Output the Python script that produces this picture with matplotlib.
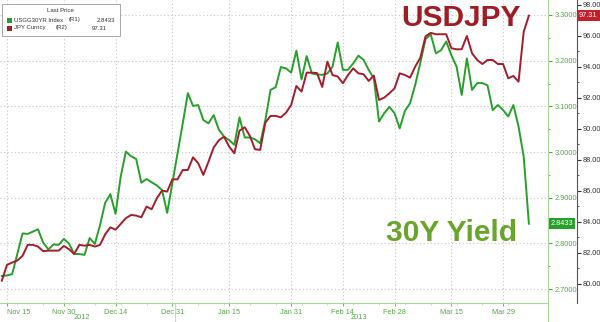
import numpy as np
import pandas as pd
import matplotlib
matplotlib.use("Agg")
import matplotlib.pyplot as plt
import matplotlib.transforms as mtransforms
from matplotlib.patches import Rectangle
from matplotlib.ticker import FormatStrFormatter

plt.rcParams["font.family"] = ["Liberation Sans", "DejaVu Sans"]

# business days, 14 Nov 2012 .. 5 Apr 2013
dates = pd.bdate_range("2012-11-14", "2013-04-05")

yield_30y = [
    2.729, 2.730, 2.733, 2.777, 2.822, 2.821, 2.826, 2.831, 2.802, 2.787,
    2.798, 2.797, 2.810, 2.800, 2.777, 2.777, 2.775, 2.812, 2.799, 2.840,
    2.889, 2.908, 2.865, 2.946, 3.001, 2.991, 2.985, 2.933, 2.941, 2.934,
    2.927, 2.917, 2.867, 2.932, 2.997, 3.062, 3.129, 3.101, 3.103, 3.070,
    3.063, 3.081, 3.049, 3.034, 3.026, 3.016, 3.076, 3.032, 3.032, 3.028,
    3.019, 3.070, 3.136, 3.142, 3.186, 3.183, 3.174, 3.222, 3.159, 3.210,
    3.172, 3.170, 3.169, 3.172, 3.187, 3.240, 3.180, 3.180, 3.194, 3.211,
    3.202, 3.180, 3.161, 3.067, 3.085, 3.099, 3.085, 3.052, 3.090, 3.107,
    3.147, 3.196, 3.247, 3.258, 3.216, 3.223, 3.242, 3.212, 3.187, 3.125,
    3.205, 3.136, 3.151, 3.151, 3.146, 3.092, 3.103, 3.092, 3.078, 3.103,
    3.056, 2.990, 2.8433,
]

usdjpy = [
    80.21, 81.23, 81.38, 81.51, 81.81, 82.52, 82.52, 82.41, 82.11, 82.15,
    82.15, 82.15, 82.45, 82.24, 81.94, 82.52, 82.47, 82.52, 82.41, 82.52,
    83.20, 83.65, 83.50, 83.87, 84.24, 84.45, 84.41, 84.30, 84.99, 84.82,
    85.53, 86.02, 85.96, 86.75, 86.75, 87.35, 87.35, 88.17, 87.79, 87.03,
    87.89, 88.80, 89.27, 89.50, 88.86, 88.43, 89.89, 90.11, 89.55, 88.69,
    88.65, 90.41, 90.84, 90.84, 90.75, 91.05, 91.55, 92.77, 92.41, 93.63,
    93.63, 93.61, 92.71, 94.34, 93.48, 93.38, 92.95, 93.48, 93.91, 93.59,
    93.53, 93.10, 93.44, 91.87, 92.02, 92.30, 92.62, 93.59, 93.48, 93.31,
    94.02, 94.60, 95.98, 96.20, 96.11, 96.11, 96.11, 95.21, 95.14, 95.14,
    96.00, 94.88, 94.45, 94.19, 94.45, 94.45, 94.19, 94.19, 93.27, 93.42,
    93.05, 96.28, 97.31,
]

tick_dates = ["2012-11-15", "2012-11-30", "2012-12-14", "2012-12-31", "2013-01-15",
              "2013-01-31", "2013-02-14", "2013-02-28", "2013-03-15", "2013-03-29"]
tick_labels = ["Nov 15", "Nov 30", "Dec 14", "Dec 31", "Jan 15",
               "Jan 31", "Feb 14", "Feb 28", "Mar 15", "Mar 29"]
years = ["2012", "2013"]

GREEN = "#26a02a"
RED = "#a31d2c"
GRID = "#c4c4c4"
AXGREEN = "#a9d79a"
LABGREEN = "#55a84a"

x = np.arange(len(dates))
tick_idx = dates.get_indexer(pd.to_datetime(tick_dates))
mondays = np.where(dates.weekday == 0)[0]

fig = plt.figure(figsize=(6, 3.22), dpi=100)
ax = fig.add_axes([0, 19 / 322, 548 / 600, 303 / 322])
ax2 = ax.twinx()

ax.plot(x, yield_30y, color=GREEN, lw=1.4, zorder=3)
ax.set_xlim(-0.354, 105.7)
ax.set_ylim(2.6698, 3.3328)

for s in ["left", "top"]:
    ax.spines[s].set_visible(False)
ax.spines["right"].set_color(AXGREEN)
ax.spines["bottom"].set_color(AXGREEN)

ax.yaxis.tick_right()
ax.set_yticks(np.arange(2.7, 3.31, 0.1))
ax.set_yticks(np.arange(2.75, 3.3, 0.1), minor=True)
ax.yaxis.set_major_formatter(FormatStrFormatter("%.4f"))
ax.tick_params(axis="y", which="major", colors=LABGREEN, labelsize=5.3, length=3, pad=1.5, width=0.8)
ax.tick_params(axis="y", which="minor", colors=LABGREEN, length=1.5, width=0.6)

ax.set_xticks(tick_idx)
ax.set_xticklabels(tick_labels)
ax.set_xticks(mondays, minor=True)
ax.tick_params(axis="x", which="major", colors=LABGREEN, labelsize=5.3, length=2, pad=2.5, width=0.6)
ax.tick_params(axis="x", which="minor", colors=AXGREEN, length=1.5, width=0.5)
ax.get_xticklabels()[0].set_ha("left")

ax.grid(True, which="major", color=GRID, linestyle=(0, (1, 2.2)), lw=0.8)

# axis lines running below the plot, and the 2012 / 2013 divider
blend = mtransforms.blended_transform_factory(ax.transData, ax.transAxes)
ax.plot([33.5, 33.5], [0, -0.07], color="#d0d0d0", lw=0.8, transform=blend, clip_on=False)
ax.plot([1, 1], [0, -0.07], color=AXGREEN, lw=0.8, transform=ax.transAxes, clip_on=False)
ax.text(15.5, -0.047, years[0], transform=blend, ha="center", va="center", fontsize=5.3, color=LABGREEN)
ax.text(69, -0.047, years[1], transform=blend, ha="center", va="center", fontsize=5.3, color=LABGREEN)

ax.text(551 / 548, yield_30y[-1], f"{yield_30y[-1]:.4f}",
        transform=mtransforms.blended_transform_factory(ax.transAxes, ax.transData),
        ha="left", va="center", fontsize=5.3, color="white", zorder=6,
        bbox=dict(boxstyle="square,pad=0.25", fc=GREEN, ec="none"))

ax2.plot(x, usdjpy, color=RED, lw=1.4, zorder=3)
ax2.set_ylim(78.77, 98.32)
for s in ["left", "top", "bottom"]:
    ax2.spines[s].set_visible(False)
ax2.spines["right"].set_position(("axes", 577 / 548))
ax2.spines["right"].set_color("#555555")
ax2.set_yticks(np.arange(80, 98.1, 2))
ax2.set_yticks(np.arange(81, 98, 2), minor=True)
ax2.yaxis.set_major_formatter(FormatStrFormatter("%.2f"))
ax2.tick_params(axis="y", which="major", colors="#333333", labelsize=5.3, length=3, pad=1.2, width=0.8)
ax2.tick_params(axis="y", which="minor", colors="#333333", length=1.5, width=0.6)

ax2.text(579 / 548, usdjpy[-1], f"{usdjpy[-1]:.2f}",
         transform=mtransforms.blended_transform_factory(ax2.transAxes, ax2.transData),
         ha="left", va="center", fontsize=5.3, color="white", zorder=6,
         bbox=dict(boxstyle="square,pad=0.3", fc="#c4202c", ec="none"))

# big annotations
fig.text(461 / 600, 1 - 18 / 322, "USDJPY", ha="center", va="center",
         fontsize=21.5, fontweight="bold", color="#9e1d25")
fig.text(452 / 600, 1 - 233 / 322, "30Y Yield", ha="center", va="center",
         fontsize=21.5, fontweight="bold", color="#6aa52b")


# legend box, top left
def fx(px):
    return px / 600


def fy(py):
    return 1 - py / 322


LEG = dict(va="center", fontsize=4.3, color="#333333", zorder=5)
fig.patches.append(Rectangle((fx(2), fy(36)), fx(118), 32 / 322, transform=fig.transFigure,
                             fc="white", ec="#9a9a9a", lw=0.6, zorder=4))
fig.text(fx(60), fy(11), "Last Price", ha="center", **LEG)
fig.patches.append(Rectangle((fx(7), fy(22.5)), fx(5), 5 / 322, transform=fig.transFigure,
                             fc=GREEN, ec="none", zorder=5))
fig.patches.append(Rectangle((fx(7), fy(30.5)), fx(5), 5 / 322, transform=fig.transFigure,
                             fc=RED, ec="none", zorder=5))
fig.text(fx(14), fy(20), "USGG30YR Index", ha="left", **LEG)
fig.text(fx(69), fy(20), "(R1)", ha="left", **LEG)
fig.text(fx(115), fy(20), f"{yield_30y[-1]:.4f}", ha="right", **LEG)
fig.text(fx(14), fy(28), "JPY Curncy", ha="left", **LEG)
fig.text(fx(56), fy(28), "(R2)", ha="left", **LEG)
fig.text(fx(107), fy(28), f"{usdjpy[-1]:.2f}", ha="right", **LEG)

fig.savefig("out.png", dpi=100)
